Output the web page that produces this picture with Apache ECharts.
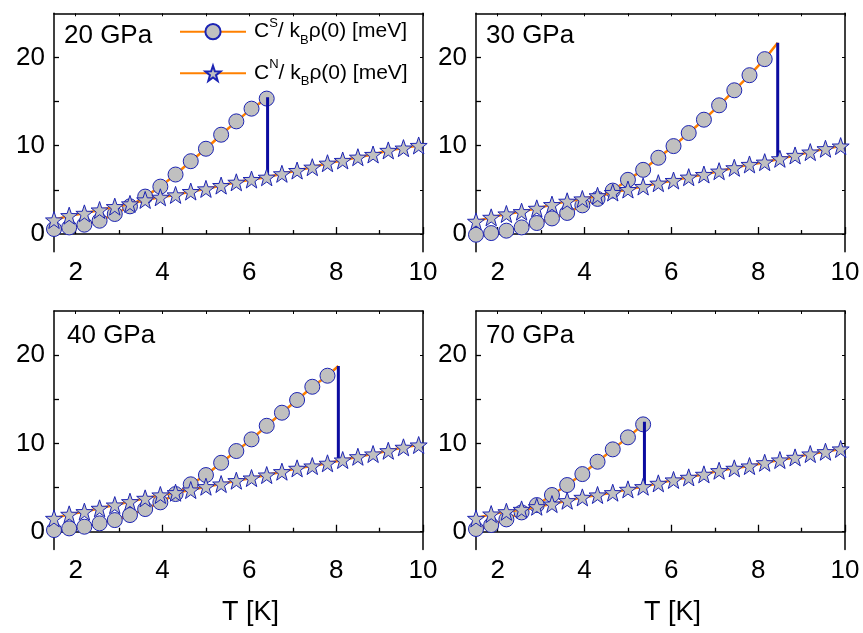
<!DOCTYPE html>
<html>
<head>
<meta charset="utf-8">
<script src="https://cdn.jsdelivr.net/npm/echarts@6/dist/echarts.min.js"></script>
<style>html,body{margin:0;padding:0;background:#fff;}#c{width:863px;height:633px;}</style>
</head>
<body>
<div id="c"></div>
<script>
// ---- data ----
const tGrid = [1.5,1.85,2.2,2.55,2.9,3.25,3.6,3.95,4.3,4.65,5.0,5.35,5.7,6.05,6.4,6.75,7.1,7.45,7.8,8.15,8.5,8.85,9.2,9.55,9.9];
const panelLabels = ['20 GPa','30 GPa','40 GPa','70 GPa'];
const cs20 = [0.57,0.75,1.06,1.51,2.27,3.14,4.24,5.37,6.74,8.25,9.66,11.25,12.76,14.2,15.34];
const cs30 = [-0.08,0.11,0.38,0.75,1.25,1.77,2.39,3.25,3.98,4.92,6.14,7.27,8.64,9.96,11.44,12.95,14.58,16.28,17.99,19.81];
const cs40 = [0.19,0.38,0.57,0.95,1.32,1.89,2.57,3.33,4.27,5.37,6.42,7.81,9.14,10.46,12.0,13.48,14.92,16.42,17.67];
const cs70 = [0.31,0.76,1.40,2.19,3.02,4.16,5.29,6.53,7.93,9.33,10.69,12.16];
const cn20 = [1.59,2.08,2.34,2.72,3.10,3.41,3.86,4.16,4.43,4.81,5.11,5.49,5.86,6.17,6.43,6.82,7.19,7.57,8.02,8.33,8.70,9.01,9.47,9.73,10.03];
const cn30 = [1.44,1.89,2.27,2.53,2.91,3.33,3.71,3.97,4.33,4.70,5.04,5.38,5.76,6.06,6.44,6.74,7.12,7.50,7.88,8.14,8.52,8.90,9.28,9.66,9.96];
const cn40 = [1.51,1.97,2.27,2.65,3.02,3.40,3.78,4.16,4.42,4.72,5.10,5.40,5.78,6.08,6.42,6.80,7.18,7.44,7.75,8.12,8.49,8.80,9.17,9.56,9.82];
const cn70 = [1.51,2.00,2.26,2.53,2.83,3.13,3.51,3.89,4.16,4.42,4.80,5.10,5.48,5.86,6.16,6.50,6.91,7.18,7.44,7.81,8.12,8.42,8.80,9.06,9.37];
const tcValues = [6.42,8.45,8.05,5.38];
const jumpTop = [15.5,21.66,18.77,12.46];
const jumpBottom = [6.43,8.33,8.12,5.18];
const xMajorTicks = [2,4,6,8,10];
const xMinorTicks = [3,5,7,9];
const yTicks = [0,5,10,15,20];
const yLabels = [0,10,20];

const csAll = [cs20, cs30, cs40, cs70];
const cnAll = [cn20, cn30, cn40, cn70];

// ---- styling ----
const FF = "'Liberation Sans', Arial, Helvetica, sans-serif";
const ORANGE = '#ff8000';
const BLUE = '#1c24b4';
const JUMP = '#0b0ba0';
const GRAY = '#c0c0c0';

function starPath() {
  let d = '';
  for (let i = 0; i < 10; i++) {
    const a = (-90 + i * 36) * Math.PI / 180;
    const r = (i % 2 === 0) ? 1 : 0.40;
    const x = (r * Math.cos(a)).toFixed(4), y = (r * Math.sin(a)).toFixed(4);
    d += (i === 0 ? 'M' : 'L') + x + ' ' + y + ' ';
  }
  return 'path://' + d + 'Z';
}
const STAR = starPath();

const grids = [
  {left: 54, top: 13.3, width: 369, height: 238.4},
  {left: 476, top: 13.3, width: 369, height: 238.4},
  {left: 54, top: 311, width: 369, height: 238.4},
  {left: 476, top: 311, width: 369, height: 238.4}
];
const titlePos = [[64, 23], [486, 23], [67, 323], [486, 323]];

const xAxis = [], yAxis = [], series = [], title = [];
const axisLine = {show: true, lineStyle: {color: '#000', width: 1.5}};
grids.forEach((g, i) => {
  const bottomRow = i >= 2;
  xAxis.push({
    gridIndex: i, type: 'value', min: 1.5, max: 10, position: 'bottom',
    axisLine: axisLine,
    axisTick: {inside: true, length: 7, customValues: xMajorTicks, lineStyle: {color: '#000', width: 1.3}},
    axisLabel: {customValues: xMajorTicks, fontSize: 26, color: '#000', fontFamily: FF, margin: 8},
    splitLine: {show: false},
    name: bottomRow ? 'T [K]' : '', nameLocation: 'middle', nameGap: 50,
    nameTextStyle: {fontSize: 27, color: '#000', fontFamily: FF, padding: [0, 0, 0, 24]}
  });
  xAxis.push({
    gridIndex: i, type: 'value', min: 1.5, max: 10, position: 'bottom',
    axisLine: {show: false},
    axisTick: {inside: true, length: 4, customValues: xMinorTicks, lineStyle: {color: '#000', width: 1.3}},
    axisLabel: {show: false}, splitLine: {show: false}
  });
  xAxis.push({
    gridIndex: i, type: 'value', min: 1.5, max: 10, position: 'top',
    axisLine: axisLine,
    axisTick: {inside: true, length: 3, customValues: xMajorTicks.concat(xMinorTicks), lineStyle: {color: '#000', width: 1}},
    axisLabel: {show: false}, splitLine: {show: false}
  });
  yAxis.push({
    gridIndex: i, type: 'value', min: -2, max: 25, position: 'left',
    axisLine: axisLine,
    axisTick: {inside: true, length: 5, customValues: yTicks, lineStyle: {color: '#000', width: 1.3}},
    axisLabel: {customValues: yLabels, fontSize: 26, color: '#000', fontFamily: FF, margin: 9},
    splitLine: {show: false}
  });
  yAxis.push({
    gridIndex: i, type: 'value', min: -2, max: 25, position: 'right',
    axisLine: axisLine,
    axisTick: {inside: true, length: 3, customValues: yTicks, lineStyle: {color: '#000', width: 1}},
    axisLabel: {show: false}, splitLine: {show: false}
  });

  const csData = csAll[i].map((v, k) => ({value: [tGrid[k], v]}));
  csData.push({value: [tcValues[i], jumpTop[i]], symbol: 'none'});
  series.push({
    name: 'CS', type: 'line', xAxisIndex: 3 * i, yAxisIndex: 2 * i,
    data: csData, symbol: 'circle', symbolSize: 15, showAllSymbol: true,
    itemStyle: {color: GRAY, borderColor: BLUE, borderWidth: 1},
    lineStyle: {color: ORANGE, width: 2.5}, z: 3, animation: false
  });
  series.push({
    name: 'jump', type: 'line', xAxisIndex: 3 * i, yAxisIndex: 2 * i,
    data: [[tcValues[i], jumpTop[i]], [tcValues[i], jumpBottom[i]]],
    symbol: 'none', lineStyle: {color: JUMP, width: 3}, z: 4, animation: false
  });
  series.push({
    name: 'CN', type: 'line', xAxisIndex: 3 * i, yAxisIndex: 2 * i,
    data: cnAll[i].map((v, k) => [tGrid[k], v]),
    symbol: STAR, symbolSize: 17, showAllSymbol: true,
    itemStyle: {color: GRAY, borderColor: BLUE, borderWidth: 1},
    lineStyle: {color: ORANGE, width: 2.5}, z: 5, animation: false
  });
  title.push({
    text: panelLabels[i], left: titlePos[i][0], top: titlePos[i][1], padding: 0,
    textStyle: {fontSize: 26, fontWeight: 'normal', color: '#000', fontFamily: FF}
  });
});

const legendText = {
  CS: '{t|C}{sup|S}{t|/ k}{sub|B}{t|ρ(0) [meV]}',
  CN: '{t|C}{sup|N}{t|/ k}{sub|B}{t|ρ(0) [meV]}'
};

const chart = echarts.init(document.getElementById('c'), null, {renderer: 'canvas'});
chart.setOption({
  backgroundColor: '#fff',
  animation: false,
  title: title,
  grid: grids,
  xAxis: xAxis,
  yAxis: yAxis,
  legend: {
    data: ['CS', 'CN'], orient: 'vertical', left: 179, top: 16.7, padding: 0,
    itemWidth: 66, itemHeight: 19, itemGap: 11.6,
    formatter: name => legendText[name],
    textStyle: {
      fontFamily: FF, fontSize: 21, color: '#000', padding: [0, 0, 0, 3],
      rich: {
        t: {fontFamily: FF, fontSize: 21, color: '#000', lineHeight: 30, verticalAlign: 'middle'},
        sup: {fontFamily: FF, fontSize: 13, color: '#000', lineHeight: 14, verticalAlign: 'top'},
        sub: {fontFamily: FF, fontSize: 13, color: '#000', lineHeight: 14, verticalAlign: 'bottom'}
      }
    }
  },
  series: series
});
</script>
</body>
</html>
